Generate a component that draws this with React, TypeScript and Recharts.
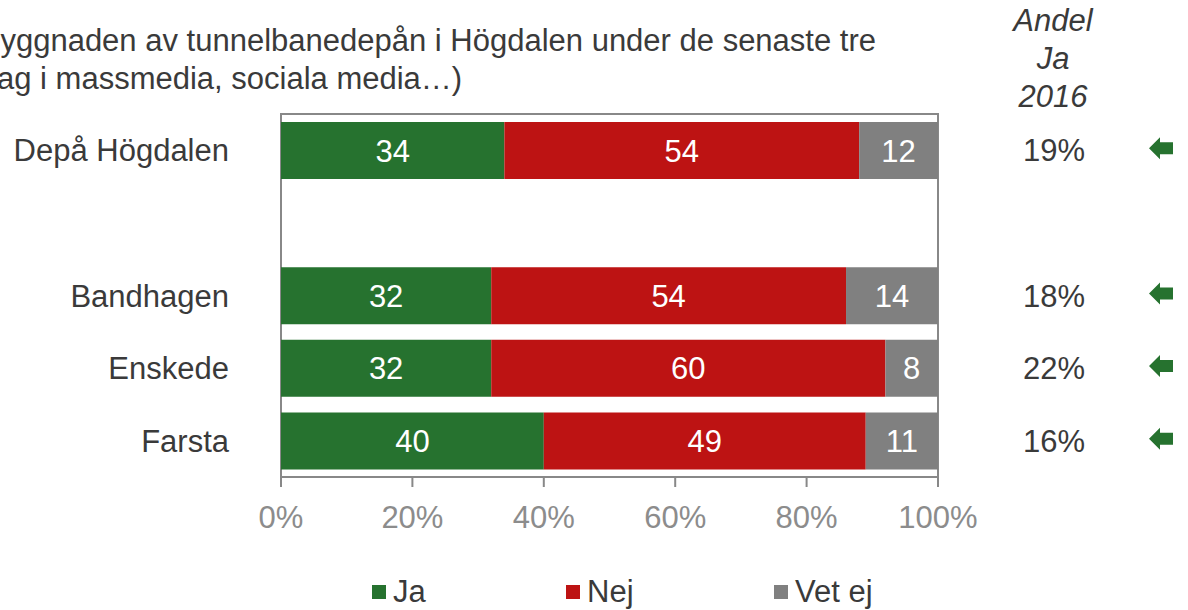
import React from "react";
import { BarChart, Bar, XAxis, YAxis, LabelList, ReferenceArea } from "recharts";

const categories = ["Depå Högdalen", "", "Bandhagen", "Enskede", "Farsta"];
const ja = [34, null, 32, 32, 40];
const nej = [54, null, 54, 60, 49];
const vetEj = [12, null, 14, 8, 11];
const andelJa2016 = ["19%", "", "18%", "22%", "16%"];
const xTicks = [0, 20, 40, 60, 80, 100];

const seriesNames = ["Ja", "Nej", "Vet ej"];
const seriesKeys = ["ja", "nej", "vetEj"];
const colors = ["#26722F", "#BD1313", "#808080"];

const data = categories.map((name, i) => ({
  name,
  ja: ja[i],
  nej: nej[i],
  vetEj: vetEj[i],
  andel: andelJa2016[i],
}));

const FONT = "'Liberation Sans', Arial, sans-serif";
const TEXT = "#3a3a3a";

const RightTick = (props: any) => {
  const { x, y, payload } = props;
  const idx = categories.indexOf(payload.value);
  const v = idx >= 0 ? andelJa2016[idx] : "";
  if (!v) return null;
  return (
    <g transform={`translate(${x},${y})`}>
      <text x={114} y={0} dy={11} textAnchor="middle" fontSize={31} fill={TEXT} fontFamily={FONT}>
        {v}
      </text>
      <path d="M 209 -2 L 220 -13 L 220 -8 L 233 -8 L 233 4 L 220 4 L 220 9 Z" fill="#26722F" />
    </g>
  );
};

const LegendBlock = () => {
  const lefts = [372, 566, 774];
  return (
    <div style={{ position: "absolute", left: 0, top: 574, width: 1188, height: 40 }}>
      {seriesNames.map((n, i) => (
        <div key={n} style={{ position: "absolute", left: lefts[i], top: 0, display: "flex", alignItems: "center" }}>
          <div style={{ width: 14, height: 14, background: colors[i], marginRight: 7 }} />
          <span style={{ fontSize: 31, color: TEXT, fontFamily: FONT, lineHeight: "36px" }}>{n}</span>
        </div>
      ))}
    </div>
  );
};

export default function App() {
  return (
    <div style={{ position: "absolute", left: 0, top: 0, width: 1188, height: 610, overflow: "hidden", background: "#fff", fontFamily: FONT }}>
      <div style={{ position: "absolute", right: 1188 - 876, top: 22, whiteSpace: "nowrap", fontSize: 31, color: TEXT, lineHeight: "38px", textAlign: "left" }}>
        byggnaden av tunnelbanedepån i Högdalen under de senaste tre
      </div>
      <div style={{ position: "absolute", left: -3, top: 60, whiteSpace: "nowrap", fontSize: 31, color: TEXT, lineHeight: "38px" }}>
        ag i massmedia, sociala media…)
      </div>
      <div style={{ position: "absolute", left: 993, width: 120, top: 2, textAlign: "center", fontSize: 31, fontStyle: "italic", color: TEXT, lineHeight: "38px" }}>
        Andel<br />Ja<br />2016
      </div>
      <div style={{ position: "absolute", left: 0, top: 0 }}>
        <BarChart
          width={1188}
          height={610}
          data={data}
          layout="vertical"
          margin={{ top: 114, right: 0, bottom: 83, left: 0 }}
          barSize={57}
        >
          <XAxis
            type="number"
            domain={[0, 100]}
            ticks={xTicks}
            tickFormatter={(v: number) => `${v}%`}
            height={50}
            axisLine={{ stroke: "#888", strokeWidth: 2 }}
            tickLine={{ stroke: "#888", strokeWidth: 2 }}
            tickSize={10}
            tickMargin={19}
            tick={{ fontSize: 31, fill: "#8c8c8c", fontFamily: FONT }}
            allowDataOverflow
          />
          <YAxis
            type="category"
            dataKey="name"
            width={281}
            axisLine={false}
            tickLine={false}
            tickSize={0}
            tickMargin={52}
            tick={{ fontSize: 31, fill: TEXT, fontFamily: FONT }}
            interval={0}
          />
          <YAxis
            yAxisId="right"
            orientation="right"
            type="category"
            dataKey="name"
            width={250}
            axisLine={false}
            tickLine={false}
            tickSize={0}
            tick={<RightTick />}
            interval={0}
          />
          <ReferenceArea x1={0} x2={100} fill="none" stroke="#888" strokeWidth={2} ifOverflow="visible" />
          {seriesKeys.map((k, i) => (
            <Bar key={k} dataKey={k} name={seriesNames[i]} stackId="a" fill={colors[i]} isAnimationActive={false}>
              <LabelList dataKey={k} position="center" fill="#fff" fontSize={31} fontFamily={FONT} />
            </Bar>
          ))}
        </BarChart>
      </div>
      <LegendBlock />
    </div>
  );
}
